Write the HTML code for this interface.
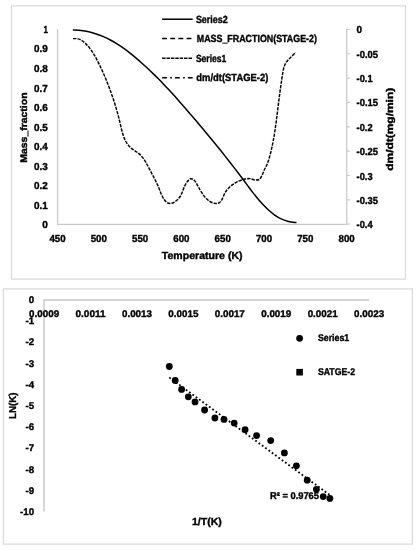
<!DOCTYPE html>
<html lang="en"><head><meta charset="utf-8"><title>Charts</title>
<style>html,body{margin:0;padding:0;background:#fff}svg{display:block;will-change:transform;filter:grayscale(1)}text{font-family:'Liberation Sans', sans-serif;font-weight:bold;fill:#000;stroke:#000;stroke-width:.38px;text-rendering:geometricPrecision}</style></head><body>
<svg width="418" height="550" viewBox="0 0 418 550">
<rect width="418" height="550" fill="#fff"/>
<g id="chart1">
<rect x="11.5" y="5.9" width="394" height="273.2" fill="#fff" stroke="#d9d9d9" stroke-width="1.2"/>
<path d="M57.6 28.9V224.45H346.7V28.9" fill="none" stroke="#c9c9c9" stroke-width="1.25"/>
<path d="M346.7 29.40h3.3M346.7 53.75h3.3M346.7 78.10h3.3M346.7 102.45h3.3M346.7 126.80h3.3M346.7 151.15h3.3M346.7 175.50h3.3M346.7 199.85h3.3M346.7 224.20h3.3" fill="none" stroke="#cdcdcd" stroke-width="1.2"/>
<text x="47.9" y="228.2" font-size="10.2" text-anchor="end" textLength="5.6" lengthAdjust="spacingAndGlyphs">0</text>
<text x="47.9" y="208.67" font-size="10.2" text-anchor="end" textLength="13.8" lengthAdjust="spacingAndGlyphs">0.1</text>
<text x="47.9" y="189.15" font-size="10.2" text-anchor="end" textLength="13.8" lengthAdjust="spacingAndGlyphs">0.2</text>
<text x="47.9" y="169.62" font-size="10.2" text-anchor="end" textLength="13.8" lengthAdjust="spacingAndGlyphs">0.3</text>
<text x="47.9" y="150.1" font-size="10.2" text-anchor="end" textLength="13.8" lengthAdjust="spacingAndGlyphs">0.4</text>
<text x="47.9" y="130.57" font-size="10.2" text-anchor="end" textLength="13.8" lengthAdjust="spacingAndGlyphs">0.5</text>
<text x="47.9" y="111.05" font-size="10.2" text-anchor="end" textLength="13.8" lengthAdjust="spacingAndGlyphs">0.6</text>
<text x="47.9" y="91.53" font-size="10.2" text-anchor="end" textLength="13.8" lengthAdjust="spacingAndGlyphs">0.7</text>
<text x="47.9" y="72.0" font-size="10.2" text-anchor="end" textLength="13.8" lengthAdjust="spacingAndGlyphs">0.8</text>
<text x="47.9" y="52.47" font-size="10.2" text-anchor="end" textLength="13.8" lengthAdjust="spacingAndGlyphs">0.9</text>
<text x="47.9" y="32.95" font-size="10.2" text-anchor="end" textLength="4.4" lengthAdjust="spacingAndGlyphs">1</text>
<text x="356.6" y="33.1" font-size="10.2" textLength="5.5" lengthAdjust="spacingAndGlyphs">0</text>
<text x="356.6" y="57.5" font-size="10.2" textLength="21.4" lengthAdjust="spacingAndGlyphs">-0.05</text>
<text x="356.6" y="81.9" font-size="10.2" textLength="16.0" lengthAdjust="spacingAndGlyphs">-0.1</text>
<text x="356.6" y="106.3" font-size="10.2" textLength="21.4" lengthAdjust="spacingAndGlyphs">-0.15</text>
<text x="356.6" y="130.7" font-size="10.2" textLength="16.0" lengthAdjust="spacingAndGlyphs">-0.2</text>
<text x="356.6" y="155.1" font-size="10.2" textLength="21.4" lengthAdjust="spacingAndGlyphs">-0.25</text>
<text x="356.6" y="179.5" font-size="10.2" textLength="16.0" lengthAdjust="spacingAndGlyphs">-0.3</text>
<text x="356.6" y="203.9" font-size="10.2" textLength="21.4" lengthAdjust="spacingAndGlyphs">-0.35</text>
<text x="356.6" y="228.3" font-size="10.2" textLength="16.0" lengthAdjust="spacingAndGlyphs">-0.4</text>
<text x="57.5" y="241.8" font-size="10.2" text-anchor="middle" textLength="16.2" lengthAdjust="spacingAndGlyphs">450</text>
<text x="98.8" y="241.8" font-size="10.2" text-anchor="middle" textLength="16.2" lengthAdjust="spacingAndGlyphs">500</text>
<text x="140.1" y="241.8" font-size="10.2" text-anchor="middle" textLength="16.2" lengthAdjust="spacingAndGlyphs">550</text>
<text x="181.4" y="241.8" font-size="10.2" text-anchor="middle" textLength="16.2" lengthAdjust="spacingAndGlyphs">600</text>
<text x="222.7" y="241.8" font-size="10.2" text-anchor="middle" textLength="16.2" lengthAdjust="spacingAndGlyphs">650</text>
<text x="264.0" y="241.8" font-size="10.2" text-anchor="middle" textLength="16.2" lengthAdjust="spacingAndGlyphs">700</text>
<text x="305.3" y="241.8" font-size="10.2" text-anchor="middle" textLength="16.2" lengthAdjust="spacingAndGlyphs">750</text>
<text x="346.6" y="241.8" font-size="10.2" text-anchor="middle" textLength="16.2" lengthAdjust="spacingAndGlyphs">800</text>
<text x="202.2" y="258.7" font-size="10.3" text-anchor="middle" textLength="80.8" lengthAdjust="spacingAndGlyphs">Temperature (K)</text>
<text x="27.3" y="127.6" font-size="9.6" text-anchor="middle" textLength="70.2" lengthAdjust="spacingAndGlyphs" transform="rotate(-90 27.3 127.6)">Mass_fraction</text>
<text x="393" y="129.3" font-size="9.7" text-anchor="middle" textLength="83" lengthAdjust="spacingAndGlyphs" transform="rotate(-90 393 129.3)">dm/dt(mg/min)</text>
<path d="M162.1 19.2H192.7" stroke="#000" stroke-width="1.5" fill="none"/>
<path d="M162.1 38.5H192.7" stroke="#000" stroke-width="1.5" stroke-dasharray="4.9 3.25" fill="none"/>
<path d="M162.1 58.2H193" stroke="#000" stroke-width="1.4" stroke-dasharray="3.45 0.95" fill="none"/>
<path d="M162.1 77.7H193" stroke="#000" stroke-width="1.5" stroke-dasharray="4.8 3.3 1.7 3.1" fill="none"/>
<text x="195.9" y="22.7" font-size="10.3" textLength="31.9" lengthAdjust="spacingAndGlyphs">Series2</text>
<text x="196.8" y="42.2" font-size="10.3" textLength="120.1" lengthAdjust="spacingAndGlyphs">MASS_FRACTION(STAGE-2)</text>
<text x="195.9" y="61.7" font-size="10.3" textLength="30.4" lengthAdjust="spacingAndGlyphs">Series1</text>
<text x="196.3" y="81.4" font-size="10.3" textLength="72" lengthAdjust="spacingAndGlyphs">dm/dt(STAGE-2)</text>
<path d="M72.88 30.04C74.23 30.12 78.34 30.22 80.99 30.52C83.64 30.82 86.23 31.27 88.77 31.84C91.31 32.41 93.80 33.12 96.24 33.92C98.68 34.73 101.08 35.65 103.43 36.67C105.78 37.69 108.08 38.82 110.35 40.02C112.62 41.23 114.84 42.54 117.03 43.9C119.22 45.26 121.37 46.71 123.49 48.2C125.61 49.70 127.69 51.27 129.74 52.87C131.79 54.47 133.81 56.13 135.81 57.81C137.81 59.49 139.77 61.21 141.71 62.94C143.66 64.67 145.58 66.43 147.48 68.21C149.38 69.99 151.25 71.79 153.11 73.6C154.97 75.41 156.80 77.25 158.62 79.09C160.44 80.94 162.24 82.80 164.03 84.67C165.82 86.55 167.59 88.44 169.35 90.34C171.11 92.24 172.86 94.17 174.59 96.09C176.32 98.02 178.04 99.95 179.76 101.89C181.47 103.83 183.18 105.79 184.88 107.75C186.58 109.71 188.27 111.69 189.96 113.66C191.65 115.63 193.34 117.61 195.02 119.59C196.70 121.57 198.38 123.55 200.05 125.54C201.72 127.53 203.40 129.52 205.06 131.52C206.72 133.52 208.39 135.52 210.04 137.52C211.69 139.52 213.34 141.53 214.98 143.54C216.62 145.55 218.25 147.56 219.88 149.58C221.50 151.60 223.12 153.61 224.73 155.64C226.34 157.66 227.94 159.69 229.53 161.73C231.12 163.76 232.70 165.80 234.28 167.85C235.86 169.90 237.43 171.96 239.0 174.03C240.57 176.10 242.13 178.19 243.69 180.29C245.25 182.39 246.81 184.51 248.38 186.61C249.95 188.71 251.52 190.82 253.13 192.89C254.74 194.96 256.37 197.02 258.05 199.01C259.73 201.00 261.44 202.95 263.22 204.82C265.00 206.69 266.83 208.52 268.74 210.22C270.65 211.92 272.62 213.57 274.7 215.02C276.78 216.47 278.93 217.83 281.22 218.92C283.51 220.01 285.90 220.95 288.45 221.56C291.00 222.17 295.17 222.41 296.52 222.58" fill="none" stroke="#000" stroke-width="1.5" stroke-linejoin="round"/>
<path d="M73.07 38.64C73.94 38.68 76.68 38.46 78.31 38.89C79.94 39.32 81.44 40.27 82.84 41.24C84.24 42.21 85.52 43.46 86.72 44.69C87.92 45.91 89.02 47.23 90.06 48.59C91.10 49.95 92.04 51.38 92.96 52.83C93.88 54.28 94.72 55.78 95.56 57.29C96.40 58.80 97.19 60.34 97.98 61.88C98.77 63.42 99.53 64.97 100.28 66.53C101.03 68.09 101.77 69.66 102.48 71.23C103.20 72.81 103.89 74.39 104.57 75.98C105.25 77.57 105.91 79.16 106.56 80.76C107.21 82.36 107.84 83.96 108.46 85.57C109.08 87.17 109.68 88.78 110.27 90.39C110.86 92.00 111.42 93.62 111.98 95.23C112.54 96.84 113.09 98.46 113.62 100.08C114.15 101.70 114.67 103.33 115.17 104.97C115.67 106.61 116.16 108.25 116.63 109.9C117.10 111.55 117.57 113.21 118.02 114.88C118.47 116.55 118.90 118.24 119.32 119.93C119.74 121.62 120.14 123.34 120.55 125.05C120.96 126.76 121.34 128.50 121.78 130.2C122.22 131.90 122.66 133.60 123.21 135.23C123.76 136.86 124.34 138.47 125.07 139.98C125.80 141.49 126.60 142.96 127.59 144.29C128.58 145.62 129.72 146.85 131.0 147.98C132.28 149.11 133.88 150.03 135.3 151.06C136.73 152.09 138.28 153.02 139.55 154.16C140.82 155.30 141.88 156.57 142.91 157.91C143.94 159.25 144.82 160.70 145.71 162.17C146.60 163.64 147.41 165.20 148.24 166.73C149.07 168.26 149.86 169.83 150.67 171.36C151.48 172.89 152.30 174.41 153.1 175.93C153.90 177.45 154.70 178.96 155.46 180.49C156.22 182.02 156.97 183.55 157.67 185.12C158.37 186.69 158.99 188.30 159.64 189.91C160.29 191.52 160.83 193.19 161.57 194.76C162.31 196.33 163.05 197.98 164.07 199.35C165.09 200.72 166.30 202.39 167.7 203.0C169.09 203.61 170.91 203.48 172.44 203.03C173.97 202.58 175.59 201.42 176.9 200.29C178.21 199.16 179.34 197.71 180.28 196.25C181.22 194.79 181.84 193.14 182.53 191.55C183.22 189.96 183.71 188.25 184.44 186.69C185.17 185.12 185.86 183.48 186.89 182.16C187.92 180.84 189.34 179.04 190.6 178.76C191.86 178.48 193.30 179.35 194.45 180.46C195.60 181.57 196.60 183.85 197.52 185.4C198.44 186.95 199.12 188.31 199.97 189.75C200.82 191.19 201.65 192.66 202.64 194.06C203.63 195.46 204.67 196.93 205.9 198.17C207.13 199.41 208.51 200.64 210.02 201.5C211.53 202.36 213.38 203.15 214.94 203.35C216.50 203.55 218.17 203.43 219.39 202.68C220.61 201.93 221.41 200.34 222.27 198.84C223.13 197.34 223.69 195.30 224.56 193.7C225.43 192.10 226.40 190.58 227.5 189.24C228.60 187.90 229.84 186.73 231.16 185.67C232.47 184.61 233.91 183.70 235.39 182.87C236.87 182.04 238.44 181.32 240.03 180.69C241.62 180.06 243.28 179.43 244.94 179.08C246.60 178.73 248.31 178.45 249.99 178.6C251.67 178.75 253.46 179.84 255.04 179.96C256.62 180.08 258.26 180.16 259.46 179.32C260.66 178.48 261.41 176.50 262.23 174.91C263.05 173.31 263.64 171.35 264.38 169.75C265.12 168.15 265.99 166.84 266.67 165.31C267.36 163.78 267.95 162.20 268.49 160.58C269.03 158.96 269.48 157.26 269.93 155.59C270.38 153.92 270.79 152.22 271.19 150.54C271.59 148.85 271.96 147.17 272.31 145.48C272.66 143.79 272.99 142.09 273.3 140.4C273.62 138.71 273.92 137.01 274.2 135.31C274.48 133.61 274.75 131.91 275.0 130.2C275.25 128.49 275.49 126.79 275.73 125.08C275.97 123.37 276.20 121.67 276.42 119.96C276.64 118.25 276.86 116.55 277.07 114.84C277.28 113.13 277.50 111.42 277.71 109.71C277.92 108.00 278.13 106.30 278.34 104.59C278.55 102.88 278.77 101.18 278.99 99.47C279.21 97.76 279.43 96.05 279.66 94.34C279.89 92.63 280.12 90.93 280.35 89.22C280.59 87.51 280.82 85.80 281.07 84.09C281.31 82.38 281.56 80.67 281.82 78.96C282.08 77.25 282.33 75.53 282.62 73.82C282.91 72.11 283.14 70.37 283.58 68.72C284.02 67.07 284.49 65.43 285.28 63.93C286.06 62.43 287.17 61.03 288.29 59.73C289.41 58.42 290.78 57.32 292.0 56.1C293.22 54.88 295.00 53.02 295.6 52.4" fill="none" stroke="#000" stroke-width="1.45" stroke-dasharray="3.35 1.1" stroke-linejoin="round"/>
</g>
<g id="chart2">
<rect x="3.4" y="288.9" width="409" height="255.2" fill="#fff" stroke="#d9d9d9" stroke-width="1.2"/>
<path d="M44.0 511.5V300.0H369.4" fill="none" stroke="#c8c8c8" stroke-width="1.4"/>
<text x="34.1" y="303.0" font-size="9.7" text-anchor="end" textLength="5.4" lengthAdjust="spacingAndGlyphs">0</text>
<text x="34.1" y="324.2" font-size="9.7" text-anchor="end" textLength="8.6" lengthAdjust="spacingAndGlyphs">-1</text>
<text x="34.1" y="345.4" font-size="9.7" text-anchor="end" textLength="8.6" lengthAdjust="spacingAndGlyphs">-2</text>
<text x="34.1" y="366.6" font-size="9.7" text-anchor="end" textLength="8.6" lengthAdjust="spacingAndGlyphs">-3</text>
<text x="34.1" y="387.8" font-size="9.7" text-anchor="end" textLength="8.6" lengthAdjust="spacingAndGlyphs">-4</text>
<text x="34.1" y="409.0" font-size="9.7" text-anchor="end" textLength="8.6" lengthAdjust="spacingAndGlyphs">-5</text>
<text x="34.1" y="430.2" font-size="9.7" text-anchor="end" textLength="8.6" lengthAdjust="spacingAndGlyphs">-6</text>
<text x="34.1" y="451.4" font-size="9.7" text-anchor="end" textLength="8.6" lengthAdjust="spacingAndGlyphs">-7</text>
<text x="34.1" y="472.6" font-size="9.7" text-anchor="end" textLength="8.6" lengthAdjust="spacingAndGlyphs">-8</text>
<text x="34.1" y="493.8" font-size="9.7" text-anchor="end" textLength="8.6" lengthAdjust="spacingAndGlyphs">-9</text>
<text x="34.1" y="515.0" font-size="9.7" text-anchor="end" textLength="14" lengthAdjust="spacingAndGlyphs">-10</text>
<text x="44.1" y="316.9" font-size="9.7" text-anchor="middle" textLength="30.0" lengthAdjust="spacingAndGlyphs">0.0009</text>
<text x="90.53" y="316.9" font-size="9.7" text-anchor="middle" textLength="30.0" lengthAdjust="spacingAndGlyphs">0.0011</text>
<text x="136.96" y="316.9" font-size="9.7" text-anchor="middle" textLength="30.0" lengthAdjust="spacingAndGlyphs">0.0013</text>
<text x="183.39" y="316.9" font-size="9.7" text-anchor="middle" textLength="30.0" lengthAdjust="spacingAndGlyphs">0.0015</text>
<text x="229.81" y="316.9" font-size="9.7" text-anchor="middle" textLength="30.0" lengthAdjust="spacingAndGlyphs">0.0017</text>
<text x="276.24" y="316.9" font-size="9.7" text-anchor="middle" textLength="30.0" lengthAdjust="spacingAndGlyphs">0.0019</text>
<text x="322.67" y="316.9" font-size="9.7" text-anchor="middle" textLength="30.0" lengthAdjust="spacingAndGlyphs">0.0021</text>
<text x="369.1" y="316.9" font-size="9.7" text-anchor="middle" textLength="30.0" lengthAdjust="spacingAndGlyphs">0.0023</text>
<text x="206.9" y="524.9" font-size="10.1" text-anchor="middle" textLength="29.9" lengthAdjust="spacingAndGlyphs">1/T(K)</text>
<text x="15.8" y="405.7" font-size="10.0" text-anchor="middle" textLength="26.6" lengthAdjust="spacingAndGlyphs" transform="rotate(-90 15.8 405.7)">LN(K)</text>
<path d="M169.3 377.5L329.9 495.1" fill="none" stroke="#000" stroke-width="1.8" stroke-dasharray="1.8 2.3"/>
<circle cx="169.3" cy="366.5" r="3.4"/>
<circle cx="175.2" cy="380.5" r="3.4"/>
<circle cx="181.6" cy="389.4" r="3.4"/>
<circle cx="188.3" cy="396.8" r="3.4"/>
<circle cx="195" cy="401.9" r="3.4"/>
<circle cx="204.6" cy="410.0" r="3.4"/>
<circle cx="214.9" cy="418.0" r="3.4"/>
<circle cx="224.0" cy="419.4" r="3.4"/>
<circle cx="234.2" cy="423.1" r="3.4"/>
<circle cx="245.1" cy="429.7" r="3.4"/>
<circle cx="256.6" cy="435.6" r="3.4"/>
<circle cx="270.7" cy="440.6" r="3.4"/>
<circle cx="284.4" cy="452.9" r="3.4"/>
<circle cx="296.4" cy="465.8" r="3.4"/>
<circle cx="307.2" cy="480.2" r="3.4"/>
<circle cx="316.4" cy="489.3" r="3.4"/>
<circle cx="323.2" cy="496.6" r="3.4"/>
<circle cx="329.9" cy="498.4" r="3.4"/>
<circle cx="299.6" cy="338.3" r="3.4"/>
<rect x="296.3" y="368.9" width="6.6" height="6.6"/>
<text x="317.9" y="341.2" font-size="9.8" textLength="31.3" lengthAdjust="spacingAndGlyphs">Series1</text>
<text x="317.9" y="375.4" font-size="9.8" textLength="37.1" lengthAdjust="spacingAndGlyphs">SATGE-2</text>
<text x="270" y="498.8" font-size="9.8" textLength="49" lengthAdjust="spacingAndGlyphs">R² = 0.9765</text>
</g>
</svg></body></html>
